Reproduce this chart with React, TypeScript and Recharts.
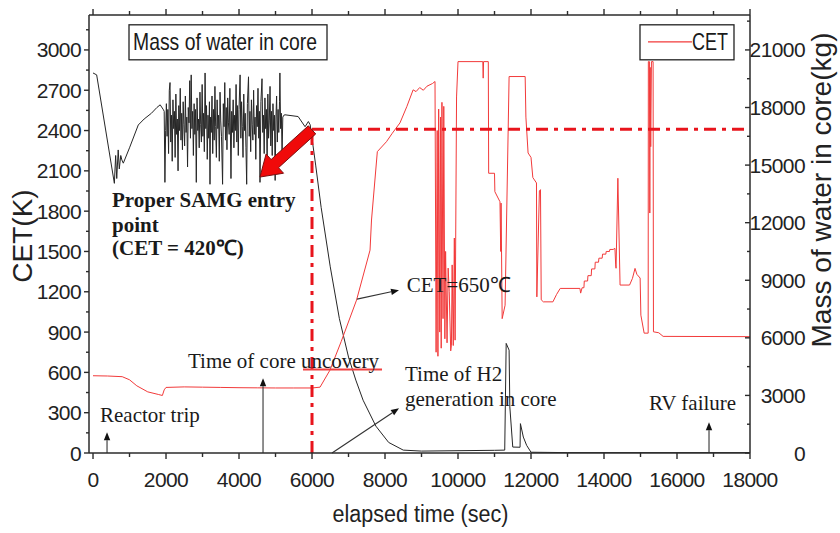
import React from "react"
import { ComposedChart, Line, XAxis, YAxis, ReferenceLine, ReferenceDot } from "recharts"

const SANS = "'Liberation Sans', Arial, sans-serif"
const SERIF = "'Liberation Serif', 'Times New Roman', serif"
const RED = "#f23a3a"
const INK = "#2b2b2b"

// [time (s), CET (K)]
const cetPoints: [number, number][] = [
  [0, 575], [400, 573], [800, 568], [1000, 545], [1200, 500], [1500, 455], [1800, 435], [1900, 428],
  [1950, 470], [2000, 488], [2500, 492], [3000, 490], [3500, 488], [4000, 486], [4500, 485], [5000, 484],
  [5500, 484], [6000, 484], [6220, 490], [6490, 616], [6800, 830], [7220, 1138], [7590, 1510], [7630, 1734],
  [7790, 2243], [8040, 2317], [8200, 2380], [8410, 2457], [8600, 2580], [8770, 2703], [8850, 2690],
  [8950, 2720], [9050, 2700], [9150, 2730], [9300, 2750], [9370, 2765],
  [9400, 750], [9430, 2400], [9450, 720], [9470, 2560], [9500, 900], [9520, 2500], [9540, 780],
  [9560, 2610], [9590, 1000], [9610, 2580], [9640, 850], [9660, 1500], [9700, 820], [9730, 1376],
  [9760, 1200], [9800, 760], [9820, 803], [9840, 1400], [9870, 800], [9900, 1600], [9920, 840],
  [9960, 2650], [10000, 2913], [10680, 2913], [10690, 2790], [10700, 2913], [10830, 2913],
  [10840, 2082], [11000, 2082], [11010, 1945], [11150, 1870], [11170, 1500], [11180, 1860],
  [11210, 1000], [11290, 1100], [11400, 2802], [11840, 2802], [11860, 2500], [11920, 2233],
  [12000, 2200], [12050, 2050], [12150, 2010], [12160, 1162], [12230, 1950], [12260, 1960],
  [12280, 1140], [12340, 1125], [12600, 1125], [12700, 1180], [12800, 1225], [13340, 1225],
  [13360, 1190], [13400, 1230], [13450, 1230], [13460, 1280], [13550, 1280], [13560, 1320],
  [13650, 1320], [13660, 1370], [13750, 1370], [13760, 1420], [13850, 1420], [13860, 1450],
  [13950, 1450], [13960, 1480], [14050, 1480], [14060, 1500], [14150, 1500], [14160, 1515],
  [14250, 1515], [14300, 1523], [14320, 1400],
  [14330, 1375], [14380, 2045], [14440, 1250], [14700, 1250], [14780, 1300], [14850, 1374],
  [14900, 1330], [14990, 1302], [15010, 1026], [15100, 892], [15210, 892], [15215, 2913],
  [15245, 2913], [15255, 1786], [15265, 2870], [15280, 2280], [15300, 2913], [15345, 2913],
  [15355, 902], [15500, 895], [15620, 868], [18000, 866],
]

// [time (s), mass of water in core (kg)]
const massPoints: [number, number][] = [
  [0, 19800], [100, 19700], [585, 14050], [620, 15500], [650, 14300], [690, 15790], [720, 14800],
  [760, 15500], [790, 15270], [830, 15100], [1000, 15900], [1240, 17090], [1400, 17400], [1600, 17700],
  [1750, 18000], [1840, 18140], [1930, 17880],
  [1950, 17800], [1970, 14100], [1990, 16800], [2010, 18200], [2030, 16500], [2050, 17900], [2070, 15600],
  [2090, 18900], [2110, 19300], [2130, 16200], [2150, 17600], [2170, 15200], [2190, 18400], [2210, 16900],
  [2230, 17800], [2250, 15400], [2270, 18700], [2290, 16600], [2310, 17400], [2330, 14700], [2350, 18100],
  [2370, 16800], [2390, 19000], [2410, 16300], [2430, 17700], [2450, 15800], [2470, 18300], [2490, 17100],
  [2510, 16000], [2530, 18600], [2550, 16700], [2570, 17500], [2590, 14900], [2610, 18000], [2630, 17200],
  [2650, 19400], [2670, 16400], [2690, 19700], [2710, 16900], [2730, 17800], [2750, 15500], [2770, 18200],
  [2790, 16600], [2810, 17900], [2830, 14100], [2850, 18500], [2870, 16800], [2890, 17400], [2910, 15900],
  [2930, 18800], [2950, 17100], [2970, 16200], [2990, 19200], [3010, 16500], [3030, 17700], [3050, 15700],
  [3070, 19800], [3090, 16900], [3110, 18100], [3130, 15300], [3150, 17600], [3170, 16400], [3190, 18300],
  [3205, 14000], [3220, 17500], [3240, 16700], [3260, 18600], [3280, 15600], [3300, 17900], [3320, 16300],
  [3340, 19100], [3360, 17000], [3380, 15400], [3400, 18400], [3420, 16900], [3440, 17600], [3460, 15200],
  [3480, 18800], [3500, 17300], [3520, 16500], [3550, 14000], [3570, 18200], [3590, 17000], [3610, 19300],
  [3630, 16300], [3650, 18000], [3670, 15800], [3690, 18500], [3710, 17200], [3730, 16600], [3750, 19000],
  [3780, 14300], [3800, 17800], [3820, 16700], [3840, 18400], [3860, 15900], [3880, 17600], [3900, 16800],
  [3920, 19200], [3940, 16200], [3960, 18100], [3980, 15500], [4000, 17900], [4030, 19700], [4050, 16400],
  [4070, 18300], [4090, 17000], [4110, 15400], [4130, 18700], [4150, 16800], [4170, 17700], [4190, 15900],
  [4210, 14000], [4230, 18200], [4260, 19600], [4280, 16500], [4300, 17800], [4320, 15700], [4340, 18400],
  [4360, 17100], [4380, 16300], [4400, 18900], [4420, 16600], [4440, 17500], [4460, 15300], [4480, 18100],
  [4500, 17000], [4520, 19000], [4540, 16400], [4560, 17800], [4575, 14100], [4600, 18300], [4630, 19500],
  [4650, 16700], [4670, 17600], [4690, 15600], [4710, 18500], [4730, 16900], [4750, 17900], [4770, 15200],
  [4790, 18700], [4810, 16400], [4830, 17300], [4850, 19100], [4870, 16000], [4890, 17800], [4910, 15500],
  [4930, 18200], [4950, 16800], [4970, 17600], [4990, 14200], [5010, 17400], [5030, 18600], [5050, 16200],
  [5070, 17900], [5090, 16700], [5110, 18300], [5120, 19800], [5140, 16900], [5160, 17700], [5180, 15600],
  [5200, 17500], [5230, 17600],
  [5260, 17620], [5620, 17530], [5810, 17000], [5900, 17270], [5950, 17100], [6100, 15000], [6250, 12800],
  [6500, 9700], [6750, 7000], [7000, 5000], [7200, 3800], [7400, 2750], [7750, 1400], [8100, 550],
  [8500, 150], [9000, 100], [10000, 120], [11000, 140], [11280, 150], [11320, 5710], [11400, 5360],
  [11420, 2400], [11500, 310], [11700, 300], [11710, 1530], [11790, 830], [11880, 400], [12000, 40],
  [13000, 20], [18000, 20],
]

const timeTicks = [0, 1000, 2000, 3000, 4000, 5000, 6000, 7000, 8000, 9000, 10000, 11000, 12000, 13000, 14000, 15000, 16000, 17000, 18000]
const cetTicks = [0, 150, 300, 450, 600, 750, 900, 1050, 1200, 1350, 1500, 1650, 1800, 1950, 2100, 2250, 2400, 2550, 2700, 2850, 3000, 3150]
const massTicks = [0, 1500, 3000, 4500, 6000, 7500, 9000, 10500, 12000, 13500, 15000, 16500, 18000, 19500, 21000, 22500]

const cetData = cetPoints.map(([t, cet]) => ({ t, cet }))
const massData = massPoints.map(([t, mass]) => ({ t, mass }))

function BottomTick({ x, y, payload }: any) {
  const major = payload.value % 2000 === 0
  return (
    <g>
      <line x1={x} y1={y} x2={x} y2={y + (major ? 6 : 4)} stroke={INK} strokeWidth={1.4} />
      {major && (
        <text x={x} y={y + 34} textAnchor="middle" fontSize={21} fontFamily={SANS} fill="#222" letterSpacing={-0.6}>
          {payload.value}
        </text>
      )}
    </g>
  )
}

function TopTick({ x, y, payload }: any) {
  const major = payload.value % 2000 === 0
  return <line x1={x} y1={y} x2={x} y2={y - (major ? 6 : 4)} stroke={INK} strokeWidth={1.4} />
}

function LeftTick({ x, y, payload }: any) {
  const major = payload.value % 300 === 0
  return (
    <g>
      <line x1={x} y1={y} x2={x - (major ? 5 : 3)} y2={y} stroke={INK} strokeWidth={1.4} />
      {major && (
        <text x={x - 8} y={y + 7.5} textAnchor="end" fontSize={21} fontFamily={SANS} fill="#222" letterSpacing={-0.6}>
          {payload.value}
        </text>
      )}
    </g>
  )
}

function RightTick({ x, y, payload }: any) {
  const major = payload.value % 3000 === 0
  return (
    <g>
      <line x1={x} y1={y} x2={x - (major ? 5 : 3)} y2={y} stroke={INK} strokeWidth={1.4} />
      {major && (
        <text x={x + 55} y={y + 7.5} textAnchor="end" fontSize={21} fontFamily={SANS} fill="#222" letterSpacing={-0.6}>
          {payload.value}
        </text>
      )}
    </g>
  )
}

function thinArrow(p: any) {
  const { x1, y1, x2, y2 } = p
  const a = Math.atan2(y2 - y1, x2 - x1)
  const len = 8
  const w = 3.2
  const bx = x2 - len * Math.cos(a)
  const by = y2 - len * Math.sin(a)
  const pts = [
    [x2, y2],
    [bx - w * Math.sin(a), by + w * Math.cos(a)],
    [bx + w * Math.sin(a), by - w * Math.cos(a)],
  ]
  return (
    <g>
      <line x1={x1} y1={y1} x2={bx} y2={by} stroke="#333" strokeWidth={1.1} />
      <polygon points={pts.map((q) => q.join(",")).join(" ")} fill="#111" />
    </g>
  )
}

function bigArrow(p: any) {
  const { x1, y1, x2, y2 } = p
  const a = Math.atan2(y2 - y1, x2 - x1)
  const c = Math.cos(a)
  const s = Math.sin(a)
  const headLen = 20
  const bodyW = 5.5
  const headW = 13
  const bx = x2 - headLen * c
  const by = y2 - headLen * s
  const pts = [
    [x1 - bodyW * s, y1 + bodyW * c],
    [bx - bodyW * s, by + bodyW * c],
    [bx - headW * s, by + headW * c],
    [x2, y2],
    [bx + headW * s, by - headW * c],
    [bx + bodyW * s, by - bodyW * c],
    [x1 + bodyW * s, y1 - bodyW * c],
  ]
  return <polygon points={pts.map((q) => q.join(",")).join(" ")} fill="#f00a0a" stroke="#7a1010" strokeWidth={1} />
}

function note(key: string, t: number, cet: number, content: React.ReactNode) {
  return (
    <ReferenceDot
      key={key}
      x={t}
      y={cet}
      yAxisId="cet"
      r={0}
      shape={(p: any) => <g transform={`translate(${p.cx},${p.cy})`}>{content}</g>}
    />
  )
}

const serif = (txt: string, bold = false) => (
  <text x={0} y={0} fontSize={21} fontFamily={SERIF} fontWeight={bold ? 700 : 400} fill="#1a1a1a">
    {txt}
  </text>
)

export default function App() {
  return (
    <div style={{ position: "absolute", left: 0, top: 0, width: 840, height: 533, background: "#fff" }}>
      <ComposedChart width={840} height={533} margin={{ top: 0, right: 0, bottom: 0, left: 0 }}>
        <XAxis
          type="number"
          dataKey="t"
          domain={[-110, 18000]}
          allowDataOverflow
          ticks={timeTicks}
          interval={0}
          tick={<BottomTick />}
          tickSize={0}
          tickMargin={0}
          height={80}
          axisLine={{ stroke: INK, strokeWidth: 1.5 }}
          tickLine={false}
          label={{
            content: ({ viewBox }: any) => (
              <text
                x={viewBox.x + viewBox.width / 2 + 1}
                y={viewBox.y + 69}
                textAnchor="middle"
                fontSize={23}
                fontFamily={SANS}
                fill="#222"
                textLength={176}
                lengthAdjust="spacingAndGlyphs"
              >
                elapsed time (sec)
              </text>
            ),
          }}
        />
        <XAxis
          xAxisId="top"
          orientation="top"
          type="number"
          dataKey="t"
          domain={[-110, 18000]}
          allowDataOverflow
          ticks={timeTicks}
          interval={0}
          tick={<TopTick />}
          tickSize={0}
          tickMargin={0}
          height={15}
          axisLine={{ stroke: INK, strokeWidth: 1.5 }}
          tickLine={false}
        />
        <YAxis
          yAxisId="cet"
          type="number"
          domain={[0, 3260]}
          allowDataOverflow
          ticks={cetTicks}
          interval={0}
          tick={<LeftTick />}
          tickSize={0}
          tickMargin={0}
          width={89}
          axisLine={{ stroke: INK, strokeWidth: 1.5 }}
          tickLine={false}
          label={{
            content: ({ viewBox }: any) => (
              <text
                transform={`translate(${viewBox.x + 32},${viewBox.y + 221}) rotate(-90)`}
                textAnchor="middle"
                fontSize={28}
                fontFamily={SANS}
                fill="#222"
              >
                CET(K)
              </text>
            ),
          }}
        />
        <YAxis
          yAxisId="mass"
          orientation="right"
          type="number"
          domain={[0, 22820]}
          allowDataOverflow
          ticks={massTicks}
          interval={0}
          tick={<RightTick />}
          tickSize={0}
          tickMargin={0}
          width={90}
          axisLine={{ stroke: INK, strokeWidth: 1.5 }}
          tickLine={false}
          label={{
            content: ({ viewBox }: any) => (
              <text
                transform={`translate(${viewBox.x + 81},${viewBox.y + 175}) rotate(-90)`}
                textAnchor="middle"
                fontSize={28}
                fontFamily={SANS}
                fill="#222"
                textLength={315}
                lengthAdjust="spacingAndGlyphs"
              >
                Mass of water in core(kg)
              </text>
            ),
          }}
        />

        <Line
          data={massData}
          dataKey="mass"
          yAxisId="mass"
          type="linear"
          stroke="#262626"
          strokeWidth={1}
          dot={false}
          isAnimationActive={false}
        />
        <Line
          data={cetData}
          dataKey="cet"
          yAxisId="cet"
          type="linear"
          stroke={RED}
          strokeWidth={1}
          dot={false}
          isAnimationActive={false}
        />

        <ReferenceLine
          yAxisId="cet"
          segment={[{ x: 6000, y: 0 }, { x: 6000, y: 2410 }]}
          stroke="#e8141c"
          strokeWidth={3}
          strokeDasharray="12 6 4 6"
        />
        <ReferenceLine
          yAxisId="cet"
          segment={[{ x: 6000, y: 2410 }, { x: 18000, y: 2410 }]}
          stroke="#e8141c"
          strokeWidth={3}
          strokeDasharray="12 6 4 6"
        />
        <ReferenceLine
          yAxisId="cet"
          segment={[{ x: 5753, y: 621 }, { x: 7918, y: 621 }]}
          stroke="#f04040"
          strokeWidth={2}
        />

        <ReferenceLine yAxisId="cet" segment={[{ x: 6000, y: 2405 }, { x: 4575, y: 2054 }]} shape={bigArrow} />
        <ReferenceLine yAxisId="cet" segment={[{ x: 384, y: 0 }, { x: 384, y: 154 }]} shape={thinArrow} />
        <ReferenceLine yAxisId="cet" segment={[{ x: 4658, y: 0 }, { x: 4658, y: 557 }]} shape={thinArrow} />
        <ReferenceLine yAxisId="cet" segment={[{ x: 6548, y: 0 }, { x: 8384, y: 333 }]} shape={thinArrow} />
        <ReferenceLine yAxisId="cet" segment={[{ x: 7233, y: 1145 }, { x: 8384, y: 1212 }]} shape={thinArrow} />
        <ReferenceLine yAxisId="cet" segment={[{ x: 16877, y: 0 }, { x: 16877, y: 229 }]} shape={thinArrow} />

        {note(
          "massLegend",
          986,
          3187,
          <g>
            <rect x={0} y={0} width={198} height={35} fill="#fff" stroke="#222" strokeWidth={1.3} />
            <text x={4} y={25} fontSize={24} fontFamily={SANS} fill="#1a1a1a" textLength={184} lengthAdjust="spacingAndGlyphs">
              Mass of water in core
            </text>
          </g>
        )}
        {note(
          "cetLegend",
          14986,
          3187,
          <g>
            <rect x={0} y={0} width={94} height={35} fill="#fff" stroke="#222" strokeWidth={1.3} />
            <line x1={8} y1={17} x2={52} y2={17} stroke={RED} strokeWidth={1.2} />
            <text x={52} y={25} fontSize={24} fontFamily={SANS} fill="#1a1a1a" textLength={36} lengthAdjust="spacingAndGlyphs">
              CET
            </text>
          </g>
        )}
        {note("samg1", 521, 1831, serif("Proper SAMG entry", true))}
        {note("samg2", 521, 1645, serif("point", true))}
        {note("samg3", 521, 1473, serif("(CET = 420\u2103)", true))}
        {note("trip", 192, 231, serif("Reactor trip"))}
        {note("uncov", 2603, 629, serif("Time of core uncovery"))}
        {note("c650", 8595, 1200, serif("CET=650\u2103"))}
        {note("h2a", 8548, 534, serif("Time of H2"))}
        {note("h2b", 8548, 348, serif("generation in core"))}
        {note("rv", 15233, 318, serif("RV failure"))}
      </ComposedChart>
    </div>
  )
}
